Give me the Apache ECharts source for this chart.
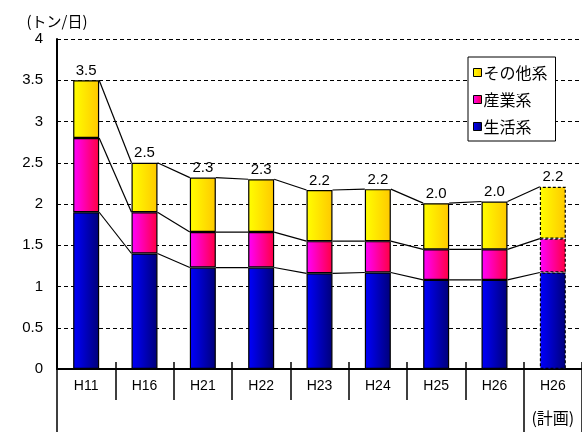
<!DOCTYPE html>
<html>
<head>
<meta charset="utf-8">
<script src="https://cdn.jsdelivr.net/npm/echarts@6/dist/echarts.min.js"></script>
<style>
  html, body { margin: 0; padding: 0; background: #fff; }
  #chart { width: 582px; height: 432px; }
</style>
</head>
<body>
<div id="chart"></div>
<script>
// 年度
const categories = ['H11', 'H16', 'H21', 'H22', 'H23', 'H24', 'H25', 'H26', 'H26\n(計画)']
// 系列（トン/日）
const seikatsu = [1.90, 1.40, 1.23, 1.23, 1.16, 1.17, 1.08, 1.08, 1.17]
const sangyo   = [0.90, 0.50, 0.43, 0.43, 0.39, 0.38, 0.37, 0.37, 0.41]
const sonota   = [0.70, 0.60, 0.66, 0.64, 0.62, 0.63, 0.56, 0.58, 0.63]
const yTicks = [0, 0.5, 1, 1.5, 2, 2.5, 3, 3.5, 4]

const FONT = "'Liberation Sans', 'Noto Sans CJK JP', sans-serif"
const JP = "'Noto Sans CJK JP', sans-serif"
const BAR_W = 26
const planIdx = categories.length - 1

const totals = categories.map((_, i) => seikatsu[i] + sangyo[i] + sonota[i])
const levels = [
  seikatsu,
  seikatsu.map((v, i) => v + sangyo[i]),
  totals,
]

const grad = (a, b) => new echarts.graphic.LinearGradient(0, 0, 1, 0, [
  { offset: 0, color: a },
  { offset: 1, color: b },
])

const barData = (arr) => arr.map((v, i) => i === planIdx
  ? { value: v, itemStyle: { borderType: [3, 2] } }
  : v)

const chart = echarts.init(document.getElementById('chart'))

const barBase = {
  type: 'bar',
  stack: 'total',
  barWidth: BAR_W,
  xAxisIndex: 0,
}

const tickAxis = (extra) => ({
  type: 'category',
  data: categories,
  position: 'bottom',
  axisLine: { show: false, onZero: false },
  axisLabel: { show: false },
  splitLine: { show: false },
  ...extra,
})

chart.setOption({
  animation: false,
  textStyle: { fontFamily: FONT },
  grid: { left: 57, right: 0, top: 39, bottom: 63, containLabel: false, outerBoundsMode: 'none' },
  legend: {
    data: ['その他系', '産業系', '生活系'],
    orient: 'vertical',
    left: 468, top: 57,
    padding: [6, 8, 5, 5],
    itemWidth: 8, itemHeight: 8,
    itemGap: 8,
    icon: 'rect',
    backgroundColor: '#fff',
    borderColor: '#000',
    borderWidth: 1,
    itemStyle: { borderColor: '#000', borderWidth: 1 },
    textStyle: { fontSize: 16, lineHeight: 19, color: '#000', padding: [0, 0, 0, -3], fontFamily: JP },
  },
  xAxis: [
    {
      type: 'category',
      data: categories,
      position: 'bottom',
      axisLine: { onZero: false, lineStyle: { color: '#000', width: 2 } },
      axisTick: { show: true, interval: 0, length: 31, lineStyle: { color: '#000', width: 1.5 } },
      axisLabel: {
        interval: 0,
        hideOverlap: false,
        color: '#000',
        margin: 1,
        formatter: (v) => v.split('\n').map((s, k) => k === 0 ? `{a|${s}}` : `{b|${s}}`).join('\n'),
        rich: {
          a: { fontSize: 14, lineHeight: 32, fontFamily: FONT, color: '#000' },
          b: { fontSize: 16, lineHeight: 32, fontFamily: JP, color: '#000' },
        },
      },
    },
    tickAxis({ axisTick: { show: true, length: 63, interval: (i) => i === 0 || i === planIdx, lineStyle: { color: '#000', width: 1.5 } } }),
    tickAxis({ axisTick: { show: true, interval: 0, inside: true, length: 7, lineStyle: { color: '#000', width: 1.5 } } }),
  ],
  yAxis: {
    type: 'value',
    min: yTicks[0],
    max: yTicks[yTicks.length - 1],
    interval: yTicks[1] - yTicks[0],
    name: '(トン/日)',
    nameLocation: 'end',
    nameGap: 10,
    nameTextStyle: { fontSize: 15, color: '#000', align: 'center', fontFamily: JP },
    axisLine: { show: true, lineStyle: { color: '#000', width: 2 } },
    axisTick: { show: false },
    axisLabel: { fontSize: 15, color: '#000', margin: 14, fontFamily: FONT },
    splitLine: { lineStyle: { color: '#000', type: [4, 3], width: 1 } },
  },
  series: [
    {
      ...barBase,
      name: '生活系',
      data: barData(seikatsu),
      itemStyle: { color: grad('#0000ff', '#000078'), borderColor: '#000', borderWidth: 1.2 },
    },
    {
      ...barBase,
      name: '産業系',
      data: barData(sangyo),
      itemStyle: { color: grad('#ff00ff', '#ff0040'), borderColor: '#000', borderWidth: 1.2 },
    },
    {
      ...barBase,
      name: 'その他系',
      data: barData(sonota),
      itemStyle: { color: grad('#ffff00', '#ffc800'), borderColor: '#000', borderWidth: 1.2 },
      label: {
        show: true,
        position: 'top',
        distance: 2,
        fontSize: 15,
        color: '#000',
        fontFamily: FONT,
        formatter: (p) => totals[p.dataIndex].toFixed(1),
      },
    },
    {
      // 棒の間をつなぐ線
      type: 'custom',
      xAxisIndex: 0,
      silent: true,
      z: 3,
      data: categories.slice(0, -1).map((_, i) => [i]),
      renderItem: (params, api) => {
        const i = params.dataIndex
        const children = levels.map((lv) => {
          const a = api.coord([i, lv[i]])
          const b = api.coord([i + 1, lv[i + 1]])
          return {
            type: 'line',
            shape: { x1: a[0] + BAR_W / 2, y1: a[1], x2: b[0] - BAR_W / 2, y2: b[1] },
            style: { stroke: '#000', lineWidth: 1.2 },
          }
        })
        return { type: 'group', children }
      },
    },
  ],
})
</script>
</body>
</html>
